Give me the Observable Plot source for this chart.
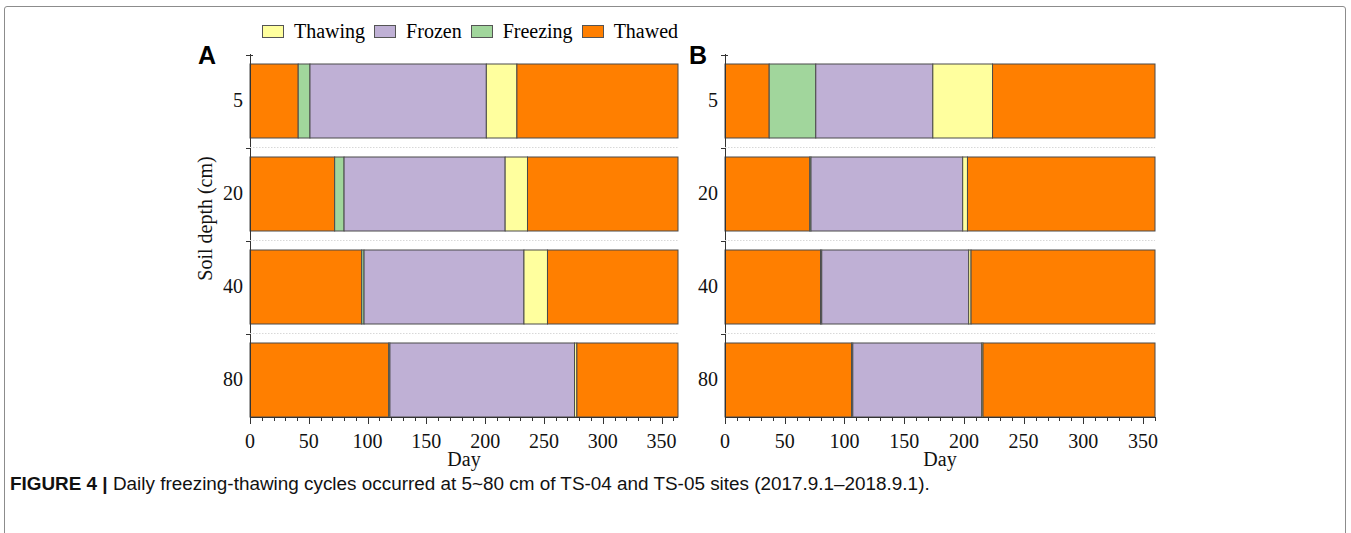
<!DOCTYPE html>
<html>
<head>
<meta charset="utf-8">
<script src="https://cdn.jsdelivr.net/npm/d3@7"></script>
<script src="https://cdn.jsdelivr.net/npm/@observablehq/plot@0.6"></script>
<style>
  html, body { margin: 0; padding: 0; background: #fff; }
  #fig { position: relative; width: 1351px; height: 533px; overflow: hidden; background: #fff; }
  #frame { position: absolute; left: 4px; top: 6px; width: 1342px; height: 560px; border: 1.5px solid #8c8c8c; border-radius: 3px; box-sizing: border-box; }
  .panel { position: absolute; top: 0; }
  .letter { position: absolute; font-family: "Liberation Sans", Arial, sans-serif; font-weight: bold; font-size: 25px; line-height: 1; }
  #legend { position: absolute; left: 262px; top: 20px; font-family: "Liberation Serif", serif; font-size: 20px; display: flex; align-items: center; white-space: nowrap; }
  #legend .item { display: flex; align-items: center; margin-right: 9px; }
  #legend .sw { width: 20px; height: 11px; border: 1px solid #555; margin-right: 10px; }
  #caption { position: absolute; left: 10px; top: 473px; font-family: "Liberation Sans", Arial, sans-serif; font-size: 18.9px; color: #111; white-space: nowrap; }
</style>
</head>
<body>
<div id="fig">
  <div id="frame"></div>
  <div id="legend"></div>
  <div class="letter" style="left:198px; top:43px;">A</div>
  <div class="letter" style="left:689px; top:43px;">B</div>
  <div id="panelA" class="panel" style="left:180px;"></div>
  <div id="panelB" class="panel" style="left:655px;"></div>
  <div id="caption"><b>FIGURE 4 |</b> Daily freezing-thawing cycles occurred at 5~80 cm of TS-04 and TS-05 sites (2017.9.1–2018.9.1).</div>
</div>
<script>
// ---- data ----
const depths = ["5", "20", "40", "80"];
const states = ["Thawing", "Frozen", "Freezing", "Thawed"];
const stateColors = ["#ffff9e", "#bfb0d5", "#a1d69c", "#ff7f00"];
const majorTicks = [0, 50, 100, 150, 200, 250, 300, 350];

// Panel A (TS-04): day on which each phase ends, for depths 5, 20, 40, 80 cm
const aThawedEnd   = [41, 72, 95, 118];
const aFreezingEnd = [51, 80, 97, 119];
const aFrozenEnd   = [201, 217, 233, 276];
const aThawingEnd  = [227, 236, 253, 278];
const aYearEnd = 364;

// Panel B (TS-05)
const bThawedEnd   = [37, 71, 80, 106];
const bFreezingEnd = [76, 72, 81, 107];
const bFrozenEnd   = [174, 199, 204, 215];
const bThawingEnd  = [224, 203, 206, 216];
const bYearEnd = 360;

const SERIF = "'Liberation Serif', 'Times New Roman', serif";

function segments(thawedEnd, freezingEnd, frozenEnd, thawingEnd, yearEnd) {
  const out = [];
  depths.forEach((d, i) => {
    out.push({depth: d, state: "Thawed", start: 0, end: thawedEnd[i]});
    out.push({depth: d, state: "Freezing", start: thawedEnd[i], end: freezingEnd[i]});
    out.push({depth: d, state: "Frozen", start: freezingEnd[i], end: frozenEnd[i]});
    out.push({depth: d, state: "Thawing", start: frozenEnd[i], end: thawingEnd[i]});
    out.push({depth: d, state: "Thawed", start: thawingEnd[i], end: yearEnd});
  });
  return out;
}

// legend
const legend = document.getElementById("legend");
states.forEach((s, i) => {
  const it = document.createElement("div");
  it.className = "item";
  it.innerHTML = `<div class="sw" style="background:${stateColors[i]}"></div><span>${s}</span>`;
  legend.appendChild(it);
});

function decorations(xMax, yLabel) {
  return (index, scales, values, dimensions) => {
    const {x, y} = scales;
    const {width, height, marginLeft, marginRight, marginTop, marginBottom} = dimensions;
    const bottom = height - marginBottom;
    const g = d3.create("svg:g").attr("font-family", SERIF).attr("font-size", 20).attr("fill", "#111");
    const step = y(depths[1]) - y(depths[0]);
    const bw = y.bandwidth ? y.bandwidth() : step * 0.8;
    const gap = step - bw;
    depths.forEach((d) => {
      const yy = Math.round(y(d) - gap / 2) + 0.5;
      if (d !== depths[0]) {
        g.append("line").attr("x1", marginLeft).attr("x2", width - marginRight)
          .attr("y1", yy - 1).attr("y2", yy - 1)
          .attr("stroke", "#d8d8d8").attr("stroke-dasharray", "1.5,1.5");
      }
      g.append("line").attr("x1", marginLeft - 4).attr("x2", marginLeft + (d === depths[0] ? 3 : 0))
        .attr("y1", yy).attr("y2", yy).attr("stroke", "#333");
      // depth labels
      g.append("text").attr("x", marginLeft - 7).attr("y", y(d) + bw / 2).attr("dy", "0.32em")
        .attr("text-anchor", "end").text(d);
    });
    // x axis line, ticks and labels
    g.append("line").attr("x1", marginLeft).attr("x2", width - marginRight)
      .attr("y1", bottom + 0.5).attr("y2", bottom + 0.5).attr("stroke", "#333");
    d3.range(10, xMax + 1, 10).filter(v => v % 50 !== 0).forEach(v => {
      const xx = Math.round(x(v)) + 0.5;
      g.append("line").attr("x1", xx).attr("x2", xx).attr("y1", bottom).attr("y2", bottom + 4).attr("stroke", "#333");
    });
    majorTicks.forEach(v => {
      const xx = Math.round(x(v)) + 0.5;
      g.append("line").attr("x1", xx).attr("x2", xx).attr("y1", bottom).attr("y2", bottom + 7).attr("stroke", "#333");
      g.append("text").attr("x", x(v)).attr("y", bottom + 31).attr("text-anchor", "middle").text(String(v));
    });
    g.append("text").attr("x", (marginLeft + width - marginRight) / 2).attr("y", bottom + 49)
      .attr("text-anchor", "middle").text("Day");
    if (yLabel) {
      g.append("text").attr("transform", `translate(${marginLeft - 45},${(marginTop + bottom) / 2 - 17}) rotate(-90)`)
        .attr("text-anchor", "middle").attr("dy", "0.35em").text(yLabel);
    }
    return g.node();
  };
}

function panel(data, xMax, yLabel, marginRight) {
  return Plot.plot({
    width: 520,
    height: 480,
    marginLeft: 70,
    marginRight,
    marginTop: 54,
    marginBottom: 63,
    style: {background: "none", fontFamily: SERIF, fontSize: "20px", color: "#111", overflow: "visible"},
    x: {domain: [0, xMax], axis: null},
    y: {domain: depths, paddingInner: 0.2, paddingOuter: 0.05, align: 1, axis: null},
    color: {domain: states, range: stateColors},
    marks: [
      Plot.barX(data, {y: "depth", x1: "start", x2: "end", fill: "state", stroke: "#4a4a4a", strokeWidth: 1}),
      Plot.ruleX([0], {stroke: "#333"}),
      decorations(xMax, yLabel)
    ]
  });
}

document.getElementById("panelA").appendChild(
  panel(segments(aThawedEnd, aFreezingEnd, aFrozenEnd, aThawingEnd, aYearEnd), aYearEnd, "Soil depth (cm)", 22));
document.getElementById("panelB").appendChild(
  panel(segments(bThawedEnd, bFreezingEnd, bFrozenEnd, bThawingEnd, bYearEnd), bYearEnd, null, 20));
</script>
</body>
</html>
